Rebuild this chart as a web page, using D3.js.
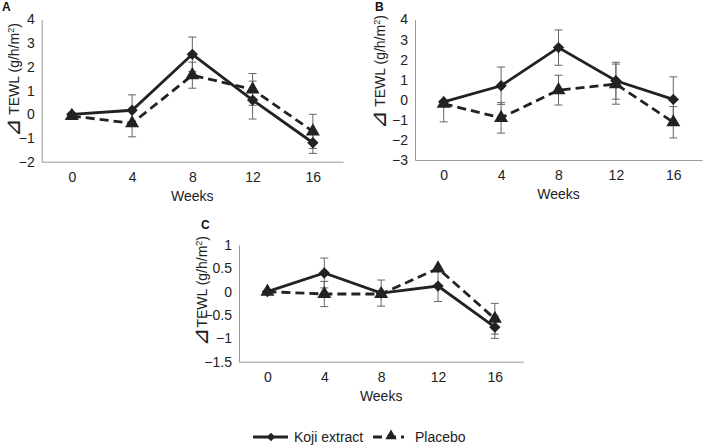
<!DOCTYPE html>
<html>
<head>
<meta charset="utf-8">
<script src="https://cdn.jsdelivr.net/npm/d3@7"></script>
<style>
  body { margin: 0; background: #fff; }
  svg { font-family: "Liberation Sans", Arial, sans-serif; }
</style>
</head>
<body>
<svg id="chart" width="707" height="445"></svg>
<script>
// weeks on the x axis
const weeks = ["0", "4", "8", "12", "16"];

// panel A
const kojiA = [0, 0.17, 2.53, 0.6, -1.2];
const kojiErrA = [0, 0.65, 0.73, 0.8, 0.45];
const placeboA = [-0.07, -0.38, 1.65, 1.05, -0.72];
const placeboErrA = [0, 0.57, 0.55, 0.67, 0.72];
const yTicksA = [4, 3, 2, 1, 0, -1, -2];

// panel B
const kojiB = [-0.1, 0.7, 2.6, 0.95, 0.02];
const kojiErrB = [0, 0.93, 0.88, 0.92, 1.12];
const placeboB = [-0.2, -0.9, 0.48, 0.78, -1.12];
const placeboErrB = [0.9, 0.76, 0.74, 1.0, 0.78];
const yTicksB = [4, 3, 2, 1, 0, -1, -2, -3];

// panel C
const kojiC = [0, 0.4, -0.03, 0.12, -0.76];
const kojiErrC = [0, 0.32, 0.28, 0.33, 0.24];
const placeboC = [0, -0.05, -0.05, 0.5, -0.58];
const placeboErrC = [0, 0.27, 0, 0, 0.33];
const yTicksC = [1, 0.5, 0, -0.5, -1, -1.5];

// B week 0 placebo only has the lower whisker
const placeboErrBUpOnly = [false, true, true, true, true];

const svg = d3.select("#chart");

function fmt(v) {
    return v < 0 ? "\u2212" + Math.abs(v) : String(v);
}

function drawPanel(p) {
    const g = svg.append("g");

    const x = d3.scalePoint()
        .domain(weeks)
        .range([p.left, p.right])
        .padding(0.5);
    const y = d3.scaleLinear()
        .domain([d3.min(p.ticks), d3.max(p.ticks)])
        .range([p.bottom, p.top]);

    // axes
    g.append("g")
        .attr("transform", "translate(0," + p.bottom + ")")
        .call(d3.axisBottom(x).tickSize(0).tickSizeOuter(0).tickPadding(10))
        .call(a => a.select(".domain").attr("stroke", "#9a9a9a"))
        .call(a => a.selectAll("text").attr("font-size", 14).attr("fill", "#222").attr("font-family", null));
    g.append("g")
        .attr("transform", "translate(" + p.left + ",0)")
        .call(d3.axisLeft(y).tickValues(p.ticks).tickFormat(fmt).tickSize(0).tickSizeOuter(0).tickPadding(7))
        .call(a => a.select(".domain").attr("stroke", "#9a9a9a"))
        .call(a => a.selectAll("text").attr("font-size", 14).attr("fill", "#222").attr("font-family", null));

    // labels
    g.append("text")
        .attr("x", (p.left + p.right) / 2)
        .attr("y", p.bottom + 39)
        .attr("text-anchor", "middle")
        .attr("font-size", 14)
        .attr("fill", "#222")
        .text("Weeks");

    const yl = g.append("text")
        .attr("transform", "translate(" + p.ylabX + "," + p.ylabY + ") rotate(-90)")
        .attr("text-anchor", "middle")
        .attr("font-size", 14)
        .attr("fill", "#222");
    yl.append("tspan").attr("font-size", 22).attr("font-family", "DejaVu Sans").attr("dy", 1).text("\u22BF");
    yl.append("tspan").attr("dy", -1).text(p.ylabPrefix + "TEWL (g/h/m");
    yl.append("tspan").attr("baseline-shift", "super").attr("font-size", 9).text("2");
    yl.append("tspan").text(")");

    g.append("text")
        .attr("x", p.letterX)
        .attr("y", p.letterY)
        .attr("font-size", 12)
        .attr("font-weight", "bold")
        .attr("fill", "#111")
        .text(p.letter);

    // error bars
    const bars = [];
    weeks.forEach((w, i) => {
        bars.push({w: w, v: p.koji[i], e: p.kojiErr[i], up: true});
        bars.push({w: w, v: p.placebo[i], e: p.placeboErr[i], up: p.placeboUp ? p.placeboUp[i] : true});
    });
    const eb = g.append("g").attr("stroke", "#666").attr("stroke-width", 1)
        .selectAll("g").data(bars.filter(d => d.e > 0)).enter().append("g");
    eb.append("line")
        .attr("x1", d => x(d.w)).attr("x2", d => x(d.w))
        .attr("y1", d => y(d.v + (d.up ? d.e : 0))).attr("y2", d => y(d.v - d.e));
    eb.filter(d => d.up).append("line")
        .attr("x1", d => x(d.w) - 4).attr("x2", d => x(d.w) + 4)
        .attr("y1", d => y(d.v + d.e)).attr("y2", d => y(d.v + d.e));
    eb.append("line")
        .attr("x1", d => x(d.w) - 4).attr("x2", d => x(d.w) + 4)
        .attr("y1", d => y(d.v - d.e)).attr("y2", d => y(d.v - d.e));

    const line = d3.line().x((d, i) => x(weeks[i])).y(d => y(d));

    // placebo
    g.append("path")
        .datum(p.placebo)
        .attr("d", line)
        .attr("fill", "none")
        .attr("stroke", "#222")
        .attr("stroke-width", 2.8)
        .attr("stroke-dasharray", "9,5");
    g.append("g").selectAll("path").data(p.placebo).enter().append("path")
        .attr("d", d3.symbol(d3.symbolTriangle, 85))
        .attr("transform", (d, i) => "translate(" + x(weeks[i]) + "," + y(d) + ")")
        .attr("fill", "#222");

    // koji
    g.append("path")
        .datum(p.koji)
        .attr("d", line)
        .attr("fill", "none")
        .attr("stroke", "#222")
        .attr("stroke-width", 2.8);
    g.append("g").selectAll("path").data(p.koji).enter().append("path")
        .attr("d", d3.symbol(d3.symbolSquare, 64))
        .attr("transform", (d, i) => "translate(" + x(weeks[i]) + "," + y(d) + ") rotate(45)")
        .attr("fill", "#222");
}

drawPanel({letter: "A", letterX: 2, letterY: 11,
    left: 41.7, right: 343, top: 19.5, bottom: 161.7, ticks: yTicksA,
    koji: kojiA, kojiErr: kojiErrA, placebo: placeboA, placeboErr: placeboErrA,
    ylabPrefix: " ", ylabX: 19, ylabY: 80});

drawPanel({letter: "B", letterX: 375, letterY: 11,
    left: 415, right: 702, top: 19.5, bottom: 160, ticks: yTicksB,
    koji: kojiB, kojiErr: kojiErrB, placebo: placeboB, placeboErr: placeboErrB, placeboUp: placeboErrBUpOnly,
    ylabPrefix: " ", ylabX: 385, ylabY: 72});

drawPanel({letter: "C", letterX: 201, letterY: 229,
    left: 239, right: 523.3, top: 245, bottom: 361.7, ticks: yTicksC,
    koji: kojiC, kojiErr: kojiErrC, placebo: placeboC, placeboErr: placeboErrC,
    ylabPrefix: "", ylabX: 207, ylabY: 291});

// legend
const leg = svg.append("g");
leg.append("line").attr("x1", 253).attr("x2", 288).attr("y1", 437).attr("y2", 437)
    .attr("stroke", "#222").attr("stroke-width", 2.8);
leg.append("path").attr("d", d3.symbol(d3.symbolSquare, 36))
    .attr("transform", "translate(271,437) rotate(45)").attr("fill", "#222");
leg.append("text").attr("x", 294).attr("y", 442).attr("font-size", 14).attr("fill", "#222").text("Koji extract");
leg.append("line").attr("x1", 373).attr("x2", 404).attr("y1", 437).attr("y2", 437)
    .attr("stroke", "#222").attr("stroke-width", 2.8).attr("stroke-dasharray", "9,5");
leg.append("path").attr("d", d3.symbol(d3.symbolTriangle, 55))
    .attr("transform", "translate(391,436)").attr("fill", "#222");
leg.append("text").attr("x", 415).attr("y", 442).attr("font-size", 14).attr("fill", "#222").text("Placebo");
</script>
</body>
</html>
